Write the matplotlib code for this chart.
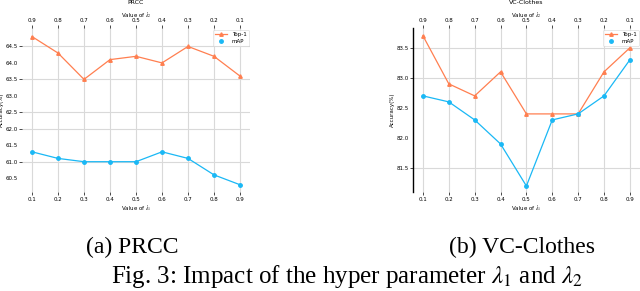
import numpy as np
import matplotlib.pyplot as plt
from matplotlib.ticker import FixedLocator, FixedFormatter

plt.rcParams['mathtext.fontset'] = 'stix'

# data
lam1 = ['0.1', '0.2', '0.3', '0.4', '0.5', '0.6', '0.7', '0.8', '0.9']
lam2 = ['0.9', '0.8', '0.7', '0.6', '0.5', '0.4', '0.3', '0.2', '0.1']

prcc_top1 = [64.8, 64.3, 63.5, 64.1, 64.2, 64.0, 64.5, 64.2, 63.6]
prcc_map = [61.3, 61.1, 61.0, 61.0, 61.0, 61.3, 61.1, 60.6, 60.3]
prcc_grid_ticks = [62.0, 62.5, 63.5, 64.5, 61.0]
prcc_other_ticks = [60.5, 61.5, 63.0, 64.0]

vc_top1 = [83.7, 82.9, 82.7, 83.1, 82.4, 82.4, 82.4, 83.1, 83.5]
vc_map = [82.7, 82.6, 82.3, 81.9, 81.2, 82.3, 82.4, 82.7, 83.3]
vc_grid_ticks = [81.5, 83.0, 83.5]
vc_other_ticks = [82.0, 82.5]

orange = '#ff7f50'
blue = '#1ab8f5'
fs = 4

fig = plt.figure(figsize=(6.4, 2.91), dpi=100)


def panel(rect, title, top1, mAP, ylim, grid_ticks, other_ticks, spine):
    ax = fig.add_axes(rect)
    x = np.arange(len(lam1))
    ax.plot(x, top1, color=orange, marker='^', markersize=2.5, linewidth=0.9, label='Top-1')
    ax.plot(x, mAP, color=blue, marker='o', markersize=2.5, linewidth=0.9, label='mAP')
    ax.set_xlim(-0.4, 8.4)
    ax.set_ylim(*ylim)
    ax.set_xticks(x)
    ax.set_xticklabels(lam1)
    ax.set_xlabel('Value of $\\lambda_1$', fontsize=fs, labelpad=1)
    ax.set_ylabel('Accuracy(%)', fontsize=fs, labelpad=1)

    ax.yaxis.set_major_locator(FixedLocator(sorted(grid_ticks)))
    ax.yaxis.set_major_formatter(FixedFormatter(['%.1f' % v for v in sorted(grid_ticks)]))
    ax.yaxis.set_minor_locator(FixedLocator(other_ticks))
    ax.yaxis.set_minor_formatter(FixedFormatter(['%.1f' % v for v in other_ticks]))
    ax.tick_params(axis='y', which='major', labelsize=fs, length=2, width=0.5, pad=1)
    ax.tick_params(axis='y', which='minor', labelsize=fs, length=0, pad=3)
    ax.tick_params(axis='x', labelsize=fs, length=2, width=0.5, pad=1.5)

    ax.grid(True, which='major', color='#d9d9d9', linewidth=0.8)
    ax.set_axisbelow(True)
    for s in ax.spines.values():
        s.set_visible(False)
    if spine:
        ax.spines['left'].set_visible(True)
        ax.spines['left'].set_color('black')
        ax.spines['left'].set_linewidth(1.0)

    ax2 = ax.twiny()
    ax2.set_xlim(ax.get_xlim())
    ax2.set_xticks(x)
    ax2.set_xticklabels(lam2)
    ax2.set_xlabel('Value of $\\lambda_2$', fontsize=fs, labelpad=1)
    ax2.tick_params(axis='x', labelsize=fs, length=2, width=0.5, pad=1.5)
    for s in ax2.spines.values():
        s.set_visible(False)
    ax2.set_title(title, fontsize=fs + 0.5, pad=4)

    leg = ax.legend(loc='upper right', fontsize=fs, frameon=True, borderaxespad=0.3,
                    handlelength=2.2, borderpad=0.4, labelspacing=0.4)
    leg.get_frame().set_linewidth(0.4)
    leg.get_lines()[1].set_linestyle('none')
    return ax


bottom = 1 - 192 / 291
height = (192 - 28) / 291
panel([21.6 / 640, bottom, 228.8 / 640, height], 'PRCC', prcc_top1, prcc_map,
      (60.08, 65.06), prcc_grid_ticks, prcc_other_ticks, False)
panel([412.6 / 640, bottom, 227.6 / 640, height], 'VC-Clothes', vc_top1, vc_map,
      (81.1, 83.83), vc_grid_ticks, vc_other_ticks, True)

serif = 'Liberation Serif'
fig.text(132 / 640, 1 - 253 / 291, '(a) PRCC', fontsize=17, family=serif, ha='center', va='baseline')
fig.text(522 / 640, 1 - 253 / 291, '(b) VC-Clothes', fontsize=17, family=serif, ha='center', va='baseline')
fig.text(347 / 640, 1 / 291, 'Fig. 3: Impact of the hyper parameter $\\lambda_1$ and $\\lambda_2$',
         fontsize=18, family=serif, ha='center', va='bottom')

fig.savefig('out.png', dpi=100)
